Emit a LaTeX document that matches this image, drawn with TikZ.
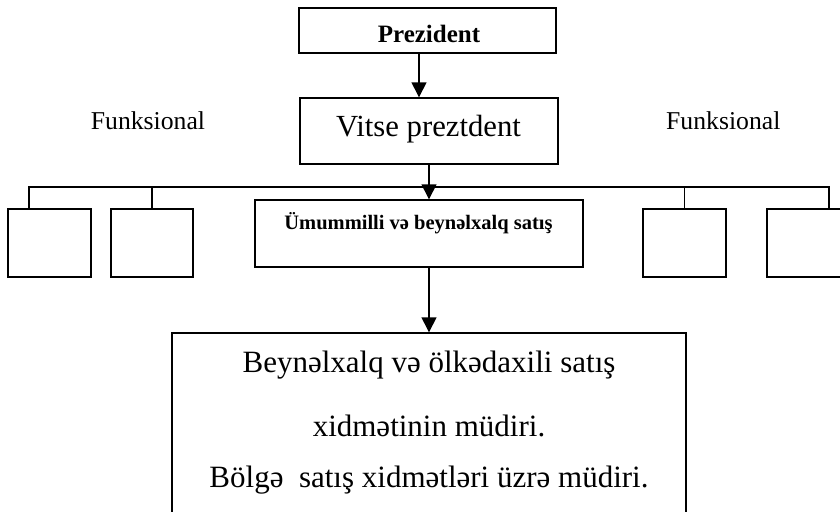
\documentclass[tikz,border=0pt]{standalone}
\usepackage{fontspec}
\setmainfont{Liberation Serif}
\usetikzlibrary{arrows.meta}
\begin{document}
\begin{tikzpicture}[x=1pt,y=-1pt,
  box/.style={draw,line width=1.4pt,rectangle,inner sep=0pt},
  link/.style={line width=1.4pt},
  arr/.style={line width=1.4pt,-{Triangle[width=15pt,length=15pt]}},
  lbl/.style={anchor=base,inner sep=0pt}]
\useasboundingbox (0,0) rectangle (840,511);
\clip (0,0) rectangle (840,511);

% boxes
\node[box,minimum width=257pt,minimum height=45pt] (pres) at (427.5,30.5) {};
\node[box,minimum width=258pt,minimum height=66pt] (vp) at (429,131) {};
\node[box,minimum width=328pt,minimum height=67pt] (cb) at (419,233.5) {};
\node[box,minimum width=83pt,minimum height=68pt] (lb1) at (49.5,243) {};
\node[box,minimum width=82pt,minimum height=68pt] (lb2) at (152,243) {};
\node[box,minimum width=83pt,minimum height=68pt] (rb1) at (684.5,243) {};
\node[box,minimum width=83pt,minimum height=68pt] (rb2) at (808.5,243) {};
\node[box,minimum width=514pt,minimum height=220pt] (bb) at (429,443) {};

% texts
\node[lbl,font=\fontsize{25}{30}\selectfont\bfseries] (tpres) at (429,42) {Prezident};
\node[lbl,font=\fontsize{30.7}{36}\selectfont] (tvp) at (428.5,136.7) {Vitse preztdent};
\node[lbl,font=\fontsize{25.7}{30}\selectfont] (fl) at (148,129) {Funksional};
\node[lbl,font=\fontsize{25.7}{30}\selectfont] (fr) at (723.3,129) {Funksional};
\node[lbl,font=\fontsize{20.5}{24}\selectfont\bfseries] (tcb) at (418.5,229) {Ümummilli və beynəlxalq satış};
\node[lbl,font=\fontsize{31}{36}\selectfont] (tb1) at (429,372) {Beynəlxalq və ölkədaxili satış};
\node[lbl,font=\fontsize{31}{36}\selectfont] (tb2) at (429,436) {xidmətinin müdiri.};
\node[lbl,font=\fontsize{31}{36}\selectfont] (tb3) at (429,487) {Bölgə~ satış xidmətləri üzrə müdiri.};

% bus line and drops
\coordinate (d1) at (29,187);
\coordinate (d4) at (829,187);
\coordinate (a1) at (419,0);
\draw[link] (d1 |- lb1.north) -- (d1) -- (d4) -- (d4 |- rb2.north);
\draw[link] (lb2.north) -- (lb2.north |- d1);
\draw[link] (rb1.north) -- (rb1.north |- d1);

% arrows
\draw[arr] (pres.south -| a1) -- (vp.north -| a1);
\draw[arr] (vp.south) -- (vp.south |- cb.north);
\draw[arr] (cb.south -| bb.north) -- (bb.north);
\end{tikzpicture}
\end{document}
